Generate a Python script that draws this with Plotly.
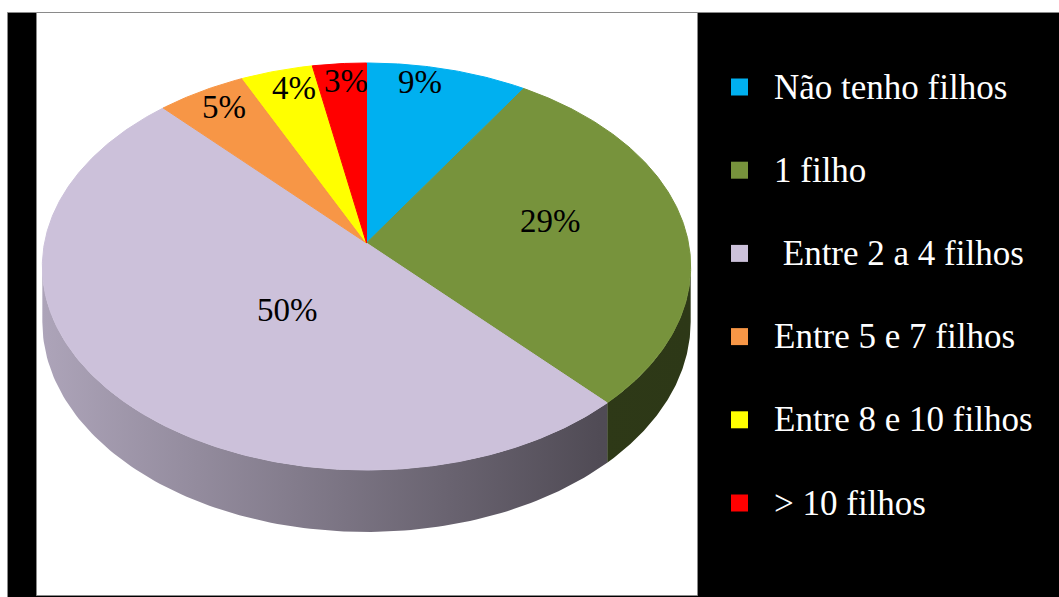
import numpy as np
import plotly.graph_objects as go

# ---- data -------------------------------------------------------------
categories = ["Não tenho filhos", "1 filho", "\u00a0Entre 2 a 4 filhos",
              "Entre 5 e 7 filhos", "Entre 8 e 10 filhos", "> 10 filhos"]
values = [9, 29, 50, 5, 4, 3]
value_labels = ["9%", "29%", "50%", "5%", "4%", "3%"]

# ---- styles -----------------------------------------------------------
colors = ["#00B0F0", "#77933C", "#CCC1DA", "#F79646", "#FFFF00", "#FF0000"]
# label placement inside each slice: radius fraction and angular nudge (deg)
label_r = [0.90, 0.59, 0.40, 0.88, 0.88, 0.89]
label_dtheta = [4.5, 5.4, 10.7, -1.1, -1.8, -0.8]

W, H = 1059, 597
SERIF = "Liberation Serif, Times New Roman, serif"

# tilted-disc projection (pixel space)
CX, CY = 366.5, 243.0       # projected centre of the disc
A, B = 322.0, 200.8         # horizontal / vertical semi-axes before perspective
K = 0.1155                  # perspective strength (far side smaller)
DEPTH = 54.8                # wall thickness


def proj(r, theta_deg):
    t = np.radians(theta_deg)
    u, v = r * np.cos(t), r * np.sin(t)
    s = 1 + K * v
    return CX + A * u / s, CY - B * v / s


def wall_drop(theta_deg):
    v = np.sin(np.radians(theta_deg))
    return DEPTH / (1 + K * v)


def shade(hex_color, f):
    h = hex_color.lstrip("#")
    rgb = [int(h[i:i + 2], 16) for i in (0, 2, 4)]
    return "rgb({},{},{})".format(*[int(round(c * f)) for c in rgb])


total = float(sum(values))
starts, ends = [], []
acc = 0.0
for v in values:
    a0 = 90 - 360 * acc / total
    acc += v
    a1 = 90 - 360 * acc / total
    starts.append(a0)
    ends.append(a1)

fig = go.Figure()

# ---- visible front wall ----------------------------------------------
kink = np.degrees(np.arcsin(K))
front_lo, front_hi = -180 + kink, -kink
x_left, _ = proj(1, front_lo)
x_right, _ = proj(1, front_hi)
for i in range(len(values)):
    lo, hi = ends[i], starts[i]
    for shift in (-360, 0, 360):
        a = max(lo + shift, front_lo)
        b = min(hi + shift, front_hi)
        if b <= a:
            continue
        th = np.linspace(a, b, 120)
        xt, yt = proj(1, th)
        yb = yt + wall_drop(th)
        xs = np.concatenate([xt, xt[::-1], xt[:1]])
        ys = np.concatenate([yt, yb[::-1], yt[:1]])
        fig.add_trace(go.Scatter(
            x=xs, y=ys, mode="lines", fill="toself",
            line=dict(width=0, color=colors[i]),
            fillgradient=dict(
                type="horizontal", start=x_left, stop=x_right,
                colorscale=[[0, shade(colors[i], 0.85)],
                            [0.86, shade(colors[i], 0.39)],
                            [1, shade(colors[i], 0.38)]]),
            hoverinfo="skip", showlegend=False))

# ---- top face slices ---------------------------------------------------
for i in range(len(values)):
    n = max(8, int(abs(starts[i] - ends[i]) * 2))
    th = np.linspace(starts[i], ends[i], n)
    xa, ya = proj(1, th)
    xs = np.concatenate([[CX], xa, [CX]])
    ys = np.concatenate([[CY], ya, [CY]])
    fig.add_trace(go.Scatter(
        x=xs, y=ys, mode="lines", fill="toself", fillcolor=colors[i],
        line=dict(width=1, color=colors[i]),
        hoverinfo="skip", showlegend=False))

# ---- slice labels ------------------------------------------------------
annotations = []
for i, txt in enumerate(value_labels):
    mid = (starts[i] + ends[i]) / 2 + label_dtheta[i]
    lx, ly = proj(label_r[i], mid)
    annotations.append(dict(
        x=float(lx), y=float(ly), text=txt, showarrow=False,
        xanchor="center", yanchor="middle",
        font=dict(family=SERIF, size=33, color="black")))

# ---- frame -------------------------------------------------------------
shapes = [
    dict(type="rect", x0=7.5, y0=12.5, x1=W + 2, y1=H + 2, layer="below",
         fillcolor="black", line=dict(color="#8a8a8a", width=1)),
    dict(type="rect", x0=36.5, y0=12.5, x1=697.5, y1=595.5, layer="below",
         fillcolor="white", line=dict(color="#8a8a8a", width=1)),
]

# ---- legend ------------------------------------------------------------
row0, row_step = 87, 83.2
for i, name in enumerate(categories):
    cy = row0 + i * row_step
    shapes.append(dict(type="rect", x0=731, x1=748, y0=cy - 8.5, y1=cy + 8.5,
                       fillcolor=colors[i], line=dict(width=0)))
    annotations.append(dict(
        x=772, y=cy, text=name, showarrow=False,
        xanchor="left", yanchor="middle",
        font=dict(family=SERIF, size=35, color="white")))

fig.update_layout(
    width=W, height=H,
    margin=dict(l=0, r=0, t=0, b=0),
    paper_bgcolor="white", plot_bgcolor="rgba(0,0,0,0)",
    xaxis=dict(range=[0, W], visible=False, fixedrange=True),
    yaxis=dict(range=[H, 0], visible=False, fixedrange=True),
    shapes=shapes, annotations=annotations,
    showlegend=False,
)

fig.write_html("out.html", config={"displayModeBar": False})
